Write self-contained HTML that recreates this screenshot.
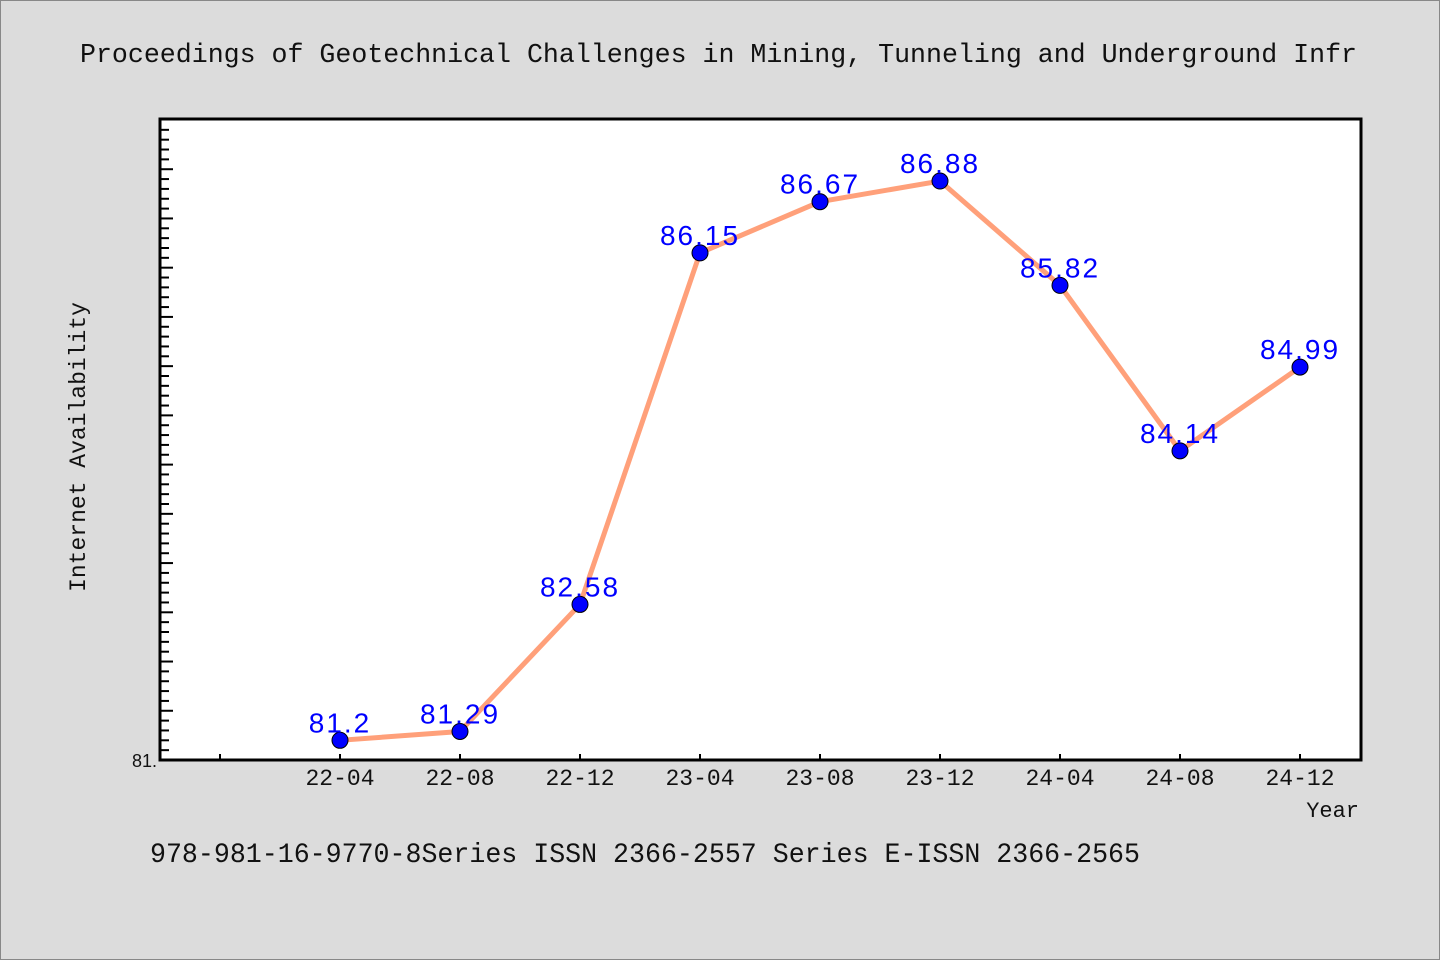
<!DOCTYPE html>
<html><head><meta charset="utf-8"><style>
body{margin:0;background:#dcdcdc;}
svg{display:block}
.mono{font-family:"Liberation Mono","WenQuanYi Zen Hei",monospace;}
</style></head><body>
<svg width="1440" height="960" viewBox="0 0 1440 960">
<rect x="0.5" y="0.5" width="1439" height="959" fill="#dcdcdc" stroke="#888"/>
<text class="mono" x="80" y="62" font-size="27" textLength="1277" lengthAdjust="spacingAndGlyphs" fill="#111">Proceedings of Geotechnical Challenges in Mining, Tunneling and Underground Infr</text>
<rect x="160" y="119" width="1201" height="641" fill="#fff" stroke="#000" stroke-width="3"/>
<g id="yticks"></g>
<g id="xticks"></g>
<text class="mono" x="85" y="447" font-size="23" text-anchor="middle" fill="#111" transform="rotate(-90 85 447)">Internet Availability</text>
<text class="mono" x="1359" y="817" font-size="22" text-anchor="end" fill="#111">Year</text>
<g id="series"></g>
<text class="mono" x="150" y="862" font-size="28" textLength="990" lengthAdjust="spacingAndGlyphs" fill="#111">978-981-16-9770-8Series ISSN 2366-2557 Series E-ISSN 2366-2565</text>
</svg>
<script>
const categories=["22-04","22-08","22-12","23-04","23-08","23-12","24-04","24-08","24-12"];
const values=[81.2,81.29,82.58,86.15,86.67,86.88,85.82,84.14,84.99];
const labels=["81.2","81.29","82.58","86.15","86.67","86.88","85.82","84.14","84.99"];
const yMin=81, yMax=87.51;
const NS="http://www.w3.org/2000/svg";
const L=160,R=1361,T=119,B=760;
function y(v){return B-(v-yMin)/(yMax-yMin)*(B-T);}
function x(i){return 340+i*120;}
function mk(tag,attrs,parent){const e=document.createElementNS(NS,tag);for(const k in attrs)e.setAttribute(k,attrs[k]);parent.appendChild(e);return e;}
const yt=document.getElementById('yticks');
for(let k=1;;k++){const v=yMin+k*0.1;const py=y(v);if(py<T+5)break;
 const major=k%5===0;
 const t=mk('line',{x1:L,x2:L+(major?13:9),y1:py,y2:py,stroke:'#000','stroke-width':2},yt);
 
 }
const yl=mk('text',{x:157,y:767,'font-size':18,'text-anchor':'end',fill:'#111','font-family':'"Liberation Sans",sans-serif'},yt);
yl.textContent="81.";


const xt=document.getElementById('xticks');
for(let i=-1;i<categories.length;i++){const px=x(i);
 const t=mk('line',{x1:px,x2:px,y1:B,y2:B-6,stroke:'#000','stroke-width':2},xt);
 
 
 if(i>=0){const tx=mk('text',{x:px,y:785,'font-size':23,'text-anchor':'middle',fill:'#111',class:'mono'},xt);
 tx.textContent=categories[i];
 
 }}
const s=document.getElementById('series');
const pl=mk('polyline',{points:values.map((v,i)=>x(i)+','+y(v)).join(' '),fill:'none',stroke:'#ffa07a','stroke-width':5,'stroke-linejoin':'round'},s);


values.forEach((v,i)=>{
 const c=mk('circle',{cx:x(i),cy:y(v),r:8,fill:'#0000ff',stroke:'#000','stroke-width':1},s);
 
 
 const t=mk('text',{x:x(i),y:y(v)-8,'font-size':28,'letter-spacing':2,'text-anchor':'middle',fill:'#0000ff','font-family':'"Liberation Sans","WenQuanYi Zen Hei",sans-serif'},s);
 t.textContent=labels[i];
 
 
});
</script>
</body></html>
